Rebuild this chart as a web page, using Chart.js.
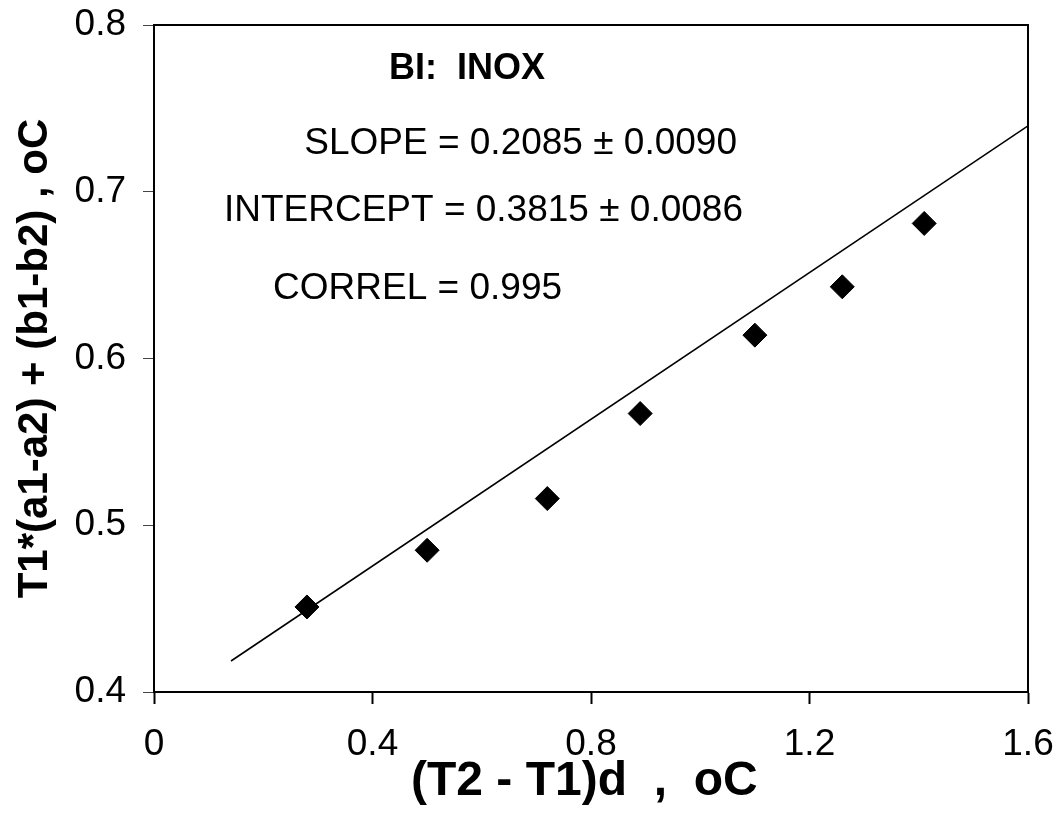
<!DOCTYPE html>
<html>
<head>
<meta charset="utf-8">
<script src="https://cdn.jsdelivr.net/npm/chart.js@4.4.1/dist/chart.umd.min.js"></script>
<style>
  html, body { margin: 0; padding: 0; background: #fff; }
  #wrap { width: 1062px; height: 827px; }
</style>
</head>
<body>
<div id="wrap"><canvas id="c" width="1062" height="827"></canvas></div>
<script>
// ---- data ----
const xValues = [0.28, 0.50, 0.72, 0.89, 1.10, 1.26, 1.41];
const yValues = [0.451, 0.485, 0.516, 0.567, 0.614, 0.643, 0.681];
const fitX = [0.141, 1.6];
const fitY = [0.4186, 0.7395];
const xTicks = [0, 0.4, 0.8, 1.2, 1.6];
const yTicks = [0.4, 0.5, 0.6, 0.7, 0.8];
const xTitle = '(T2 - T1)d  ,  oC ';
const yTitle = 'T1*(a1-a2) + (b1-b2) , oC';
const notes = [
  { text: 'BI:  INOX', x: 0.43, y: 0.7735, bold: true },
  { text: 'SLOPE = 0.2085 \u00B1 0.0090', x: 0.275, y: 0.7285, bold: false },
  { text: 'INTERCEPT = 0.3815 \u00B1 0.0086', x: 0.128, y: 0.6883, bold: false },
  { text: 'CORREL = 0.995', x: 0.218, y: 0.6421, bold: false }
];

const FONT = '"Liberation Sans", Arial, Helvetica, sans-serif';

const boxPlugin = {
  id: 'box',
  afterDatasetsDraw(chart) {
    const { ctx, chartArea: a } = chart;
    ctx.save();
    ctx.strokeStyle = '#000';
    ctx.lineWidth = 2;
    ctx.beginPath();
    ctx.moveTo(a.left - 1, a.top);
    ctx.lineTo(a.right, a.top);
    ctx.lineTo(a.right, a.bottom);
    ctx.stroke();
    ctx.restore();
  }
};

const notesPlugin = {
  id: 'notes',
  afterDraw(chart) {
    const { ctx, scales } = chart;
    ctx.save();
    ctx.fillStyle = '#000';
    ctx.textAlign = 'left';
    ctx.textBaseline = 'middle';
    notes.forEach(n => {
      ctx.font = (n.bold ? 'bold 36px ' : '37px ') + FONT;
      ctx.fillText(n.text, scales.x.getPixelForValue(n.x), scales.y.getPixelForValue(n.y));
    });
    ctx.restore();
  }
};

const fmt = v => (Math.abs(v) < 1e-9 ? '0' : String(Number(v.toFixed(1))));

new Chart(document.getElementById('c'), {
  type: 'scatter',
  data: {
    datasets: [
      {
        label: 'fit',
        data: fitX.map((x, i) => ({ x, y: fitY[i] })),
        showLine: true,
        borderColor: '#000',
        borderWidth: 1.6,
        pointRadius: 0,
        order: 2
      },
      {
        label: 'data',
        data: xValues.map((x, i) => ({ x, y: yValues[i] })),
        pointStyle: 'rectRot',
        pointRadius: 12,
        pointBackgroundColor: '#000',
        pointBorderColor: '#000',
        pointBorderWidth: 1,
        showLine: false,
        order: 1
      }
    ]
  },
  options: {
    responsive: false,
    animation: false,
    events: [],
    layout: { padding: { top: 25, right: 34, left: 0, bottom: 0 } },
    plugins: { legend: { display: false }, tooltip: { enabled: false }, title: { display: false } },
    scales: {
      x: {
        type: 'linear',
        min: 0, max: 1.6,
        afterBuildTicks: s => { s.ticks = xTicks.map(v => ({ value: v })); },
        afterFit: s => { s.height = 135; s.paddingLeft = 0; s.paddingRight = 0; },
        ticks: { color: '#000', font: { family: FONT, size: 37 }, padding: 19, callback: fmt, maxRotation: 0, autoSkip: false },
        grid: { drawOnChartArea: false, drawTicks: true, tickLength: 12, tickColor: '#000', tickWidth: 2 },
        border: { display: true, color: '#000', width: 2 },
        title: { display: true, text: xTitle, color: '#000', font: { family: FONT, size: 48, weight: 'bold', lineHeight: 1 }, padding: { top: 0, bottom: 21 } }
      },
      y: {
        type: 'linear',
        min: 0.4, max: 0.8,
        afterBuildTicks: s => { s.ticks = yTicks.map(v => ({ value: v })); },
        afterFit: s => { s.width = 154; s.paddingTop = 0; s.paddingBottom = 0; },
        ticks: { color: '#000', font: { family: FONT, size: 37 }, padding: 17, callback: fmt, autoSkip: false },
        grid: { drawOnChartArea: false, drawTicks: true, tickLength: 11, tickColor: '#444', tickWidth: 1 },
        border: { display: true, color: '#000', width: 2 },
        title: { display: true, text: yTitle, color: '#000', font: { family: FONT, size: 42, weight: 'bold', lineHeight: 1 }, padding: { top: 14, bottom: 0 } }
      }
    }
  },
  plugins: [boxPlugin, notesPlugin]
});
</script>
</body>
</html>
